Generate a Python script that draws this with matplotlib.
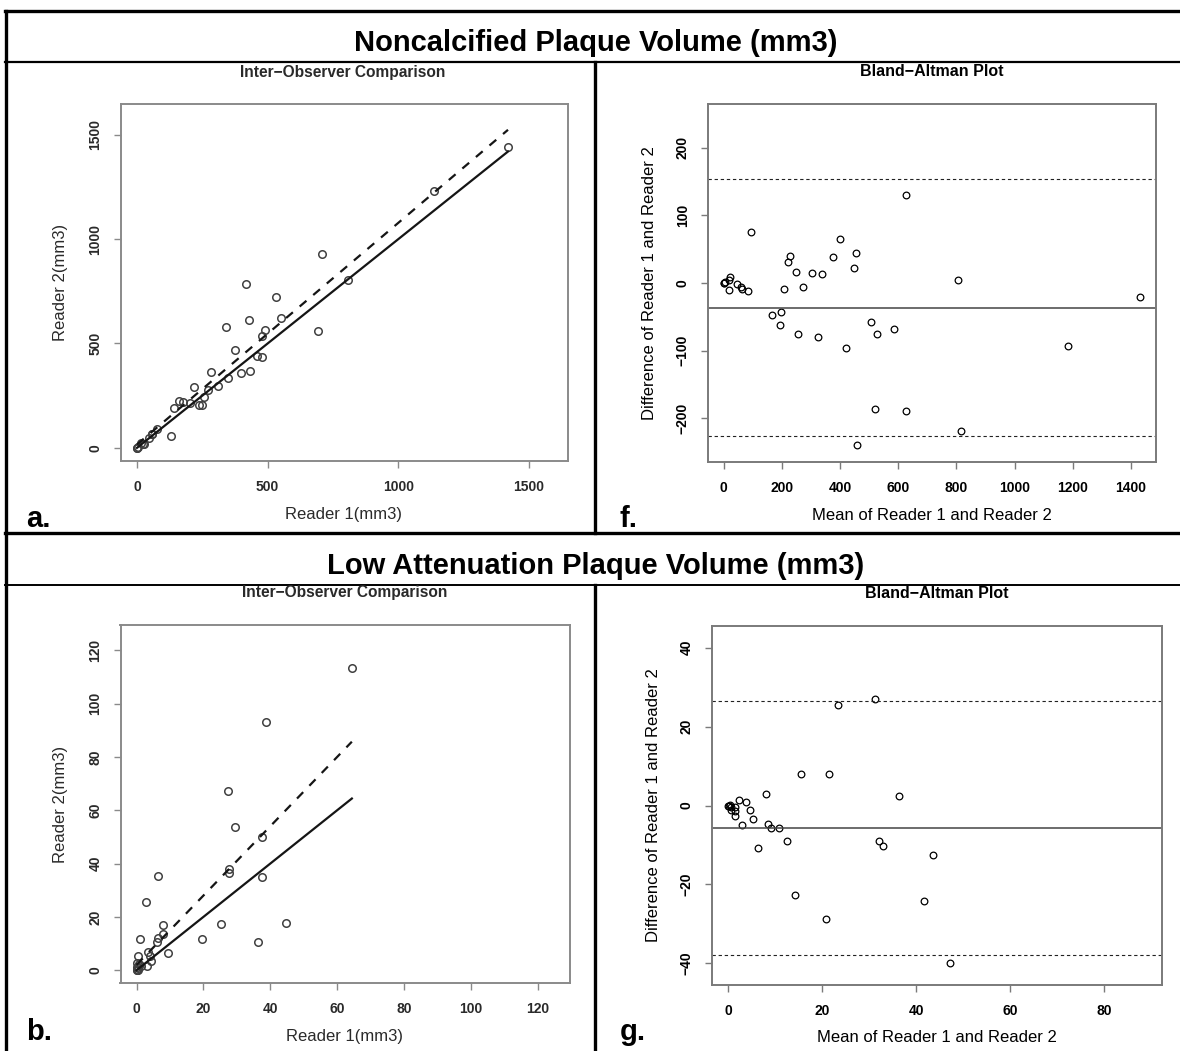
import matplotlib
matplotlib.use("Agg")
import matplotlib.pyplot as plt
from matplotlib.lines import Line2D
import numpy as np

plt.rcParams["font.family"] = ["Liberation Sans", "DejaVu Sans"]

# Noncalcified plaque volume (mm3), reader 1 vs reader 2
nc_reader1 = [0.0, 0.6, 4.9, 21.4, 27.5, 14.3, 44.5, 57.6, 58.6, 77.9, 131.0,
              141.6, 177.8, 162.7, 204.3, 237.5, 247.7, 257.9, 218.3, 271.3,
              311.2, 283.4, 346.9, 396.5, 432.0, 373.7, 459.5, 477.2, 340.3,
              477.0, 428.2, 490.6, 552.8, 691.0, 532.4, 808.6, 707.4, 1137.2,
              1419.4, 418.0]
nc_reader2 = [0.0, 0.4, 2.9, 17.5, 19.1, 24.6, 46.0, 64.0, 68.0, 90.2, 55.0,
              189.4, 220.2, 225.3, 213.7, 206.5, 207.3, 241.2, 293.7, 276.7,
              296.9, 363.7, 333.1, 358.6, 367.0, 469.3, 437.8, 432.9, 579.7,
              534.0, 613.9, 566.5, 621.3, 560.5, 721.6, 804.7, 926.6, 1230.8,
              1440.0, 783.0]
nc_fit = (16.0, 1.062)          # intercept, slope of the dashed fit
nc_bias = -36.4
nc_loa = (-226.0, 153.2)

# Low attenuation plaque volume (mm3)
la_reader1 = [64.4, 38.6, 27.3, 29.5, 37.4, 27.8, 27.7, 37.4, 6.5, 2.9, 25.4,
              44.8, 8.0, 19.5, 36.2, 0.9, 6.3, 6.1, 7.9, 9.4, 3.5, 0.4, 4.2,
              4.1, 3.0, 1.25, 0.8, 0.1, 0.0, 0.0, 0.4, 0.3, 0.1]
la_reader2 = [113.3, 93.1, 67.2, 53.6, 49.9, 38.0, 36.6, 35.1, 35.2, 25.6, 17.3,
              17.8, 16.9, 11.6, 10.6, 11.6, 12.0, 10.7, 13.5, 6.5, 6.9, 5.3, 3.3,
              5.2, 1.6, 1.55, 2.2, 2.8, 1.2, 0.0, 0.2, 0.8, 0.1]
la_fit = (2.0, 1.30)
la_bias = -5.6
la_loa = (-37.9, 26.5)

W, H = 1180, 1051
fig = plt.figure(figsize=(W / 100, H / 100), dpi=100)


def fx(px):
    return px / W


def fy(py):
    return 1 - py / H


def add_axes_px(left, top, right, bottom):
    return fig.add_axes([fx(left), fy(bottom), (right - left) / W, (bottom - top) / H])


def hline(y, x0, x1, lw):
    fig.add_artist(Line2D([fx(x0), fx(x1)], [fy(y), fy(y)], color="black", lw=lw,
                          transform=fig.transFigure))


def vline(x, y0, y1, lw):
    fig.add_artist(Line2D([fx(x), fx(x)], [fy(y0), fy(y1)], color="black", lw=lw,
                          transform=fig.transFigure))


def text_px(x, y, s, **kw):
    fig.text(fx(x), fy(y), s, ha=kw.pop("ha", "center"), va=kw.pop("va", "center"), **kw)


def tick_text(t):
    return str(t).replace("-", "\u2212")


def style_axes(ax, xticks, yticks, box_color, label_color):
    for sp in ax.spines.values():
        sp.set_color(box_color)
        sp.set_linewidth(1.4)
    ax.set_xticks(xticks)
    ax.set_yticks(yticks)
    ax.set_xticklabels([tick_text(t) for t in xticks])
    ax.set_yticklabels([tick_text(t) for t in yticks])
    ax.tick_params(direction="out", length=5, width=1, color=box_color,
                   labelsize=10, labelcolor=label_color)
    ax.tick_params(axis="x", pad=9)
    ax.tick_params(axis="y", pad=8)
    for lab in ax.get_xticklabels() + ax.get_yticklabels():
        lab.set_fontweight("bold")
    for lab in ax.get_yticklabels():
        lab.set_rotation(90)
        lab.set_va("center")


def draw_scatter(ax, r1, r2, lim, ticks, fit):
    r1 = np.asarray(r1)
    r2 = np.asarray(r2)
    ax.plot(r1, r2, ls="none", marker="o", ms=5.4, mfc="none", mec="#404040", mew=1.1)
    xs = np.array([0, r1.max()])
    ax.plot(xs, xs, color="#151515", lw=1.6)
    ax.plot(xs, fit[0] + fit[1] * xs, color="#151515", lw=1.6, dashes=(4, 4))
    ax.set_xlim(lim)
    ax.set_ylim(lim)
    style_axes(ax, ticks, ticks, "#8a8a8a", "#2a2a2a")


def draw_bland_altman(ax, r1, r2, xlim, ylim, xticks, yticks, bias, loa):
    r1 = np.asarray(r1)
    r2 = np.asarray(r2)
    mean = (r1 + r2) / 2
    diff = r1 - r2
    ax.plot(mean, diff, ls="none", marker="o", ms=4.8, mfc="none", mec="black", mew=0.9)
    ax.axhline(bias, color="#444444", lw=1.1)
    for v in loa:
        ax.axhline(v, color="#222222", lw=0.8, dashes=(3, 2.5))
    ax.set_xlim(xlim)
    ax.set_ylim(ylim)
    style_axes(ax, xticks, yticks, "#7a7a7a", "black")


# grid of the figure panel
hline(11, 5, 1180, 2.4)
hline(62, 5, 1180, 1.6)
hline(533, 5, 1180, 2.4)
hline(585, 5, 1180, 1.4)
vline(5.5, 11, 1051, 2.4)
vline(595, 62, 533, 2.4)
vline(595, 585, 1051, 2.4)

text_px(596, 43, "Noncalcified Plaque Volume (mm3)", fontsize=21, fontweight="bold")
text_px(596, 566, "Low Attenuation Plaque Volume (mm3)", fontsize=21, fontweight="bold")

# a. noncalcified, reader agreement
ax_a = add_axes_px(120.5, 104, 567.5, 461)
draw_scatter(ax_a, nc_reader1, nc_reader2, (-63, 1647), [0, 500, 1000, 1500], nc_fit)
text_px(343, 72, "Inter\u2212Observer Comparison", fontsize=11.2, fontweight="bold", color="#2a2a2a")
text_px(343, 515, "Reader 1(mm3)", fontsize=12, color="#2a2a2a")
text_px(61, 282.5, "Reader 2(mm3)", fontsize=12, rotation=90, color="#2a2a2a")

# f. noncalcified, Bland-Altman
ax_f = add_axes_px(707.8, 104, 1156, 461.7)
draw_bland_altman(ax_f, nc_reader1, nc_reader2, (-54, 1486), (-264, 264.5),
                  [0, 200, 400, 600, 800, 1000, 1200, 1400], [-200, -100, 0, 100, 200],
                  nc_bias, nc_loa)
text_px(932, 71, "Bland\u2212Altman Plot", fontsize=11.5, fontweight="bold")
text_px(932, 515, "Mean of Reader 1 and Reader 2", fontsize=12)
text_px(650, 283, "Difference of Reader 1 and Reader 2", fontsize=12, rotation=90)

# b. low attenuation, reader agreement
ax_b = add_axes_px(120.5, 625, 569.5, 983)
draw_scatter(ax_b, la_reader1, la_reader2, (-4.8, 129.5), [0, 20, 40, 60, 80, 100, 120], la_fit)
text_px(345, 592, "Inter\u2212Observer Comparison", fontsize=11.2, fontweight="bold", color="#2a2a2a")
text_px(345, 1037, "Reader 1(mm3)", fontsize=12, color="#2a2a2a")
text_px(61, 804, "Reader 2(mm3)", fontsize=12, rotation=90, color="#2a2a2a")

# g. low attenuation, Bland-Altman
ax_g = add_axes_px(711.5, 626, 1162, 985)
draw_bland_altman(ax_g, la_reader1, la_reader2, (-3.6, 92.3), (-45.5, 45.5),
                  [0, 20, 40, 60, 80], [-40, -20, 0, 20, 40], la_bias, la_loa)
text_px(937, 593, "Bland\u2212Altman Plot", fontsize=11.5, fontweight="bold")
text_px(937, 1037, "Mean of Reader 1 and Reader 2", fontsize=12)
text_px(653, 805, "Difference of Reader 1 and Reader 2", fontsize=12, rotation=90)

# panel letters
for x, y, s in [(26, 527, "a."), (620, 527, "f."), (26, 1040, "b."), (620, 1040, "g.")]:
    text_px(x, y, s, fontsize=21, fontweight="bold", ha="left", va="baseline")

fig.savefig("out.png", dpi=100)
